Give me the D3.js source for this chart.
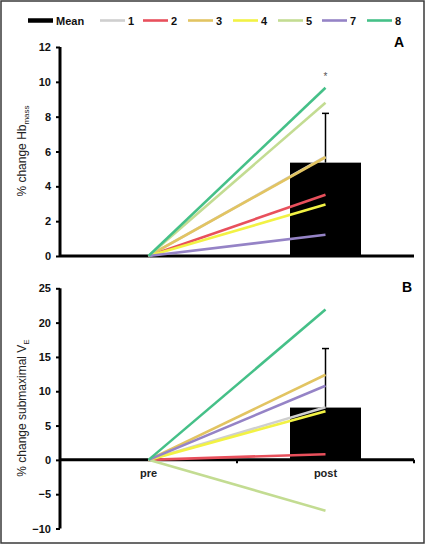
<!DOCTYPE html>
<html><head><meta charset="utf-8">
<script src="https://cdn.jsdelivr.net/npm/d3@7/dist/d3.min.js"></script>
<style>body{margin:0;background:#fff}svg{display:block;font-family:Arial,"Liberation Sans",sans-serif}</style>
</head><body>
<svg id="c" width="425" height="544"></svg>
<script>
const categories = ["pre", "post"];
const subjects = ["1", "2", "3", "4", "5", "7", "8"];
const subjectColors = ["#cfcfcf", "#e8505c", "#e2c462", "#f2f244", "#c3dc92", "#9583c6", "#45c088"];
// Panel A: % change Hb mass (post values; pre = 0)
const hbPost = [5.7, 3.52, 5.67, 2.95, 8.8, 1.22, 9.66];
const hbMean = 5.36, hbSD = 2.83;
const hbTicks = [0, 2, 4, 6, 8, 10, 12];
// Panel B: % change submaximal VE
const vePost = [7.67, 0.83, 12.4, 7.08, -7.4, 10.8, 21.9];
const veMean = 7.62, veSD = 8.6;
const veTicks = [-10, -5, 0, 5, 10, 15, 20, 25];

const svg = d3.select("#c");
svg.append("rect").attr("x",1).attr("y",1).attr("width",423).attr("height",542)
  .attr("fill","#fff").attr("stroke","#3a3a3a").attr("stroke-width",1.5);

const x = d3.scaleBand().domain(categories).range([60, 414]);
const cx = c => x(c) + x.bandwidth()/2;
const barW = 71;

function panel(yDomain, yRange, ticks, post, mean, sd, label, labelPos, star, showXLabels, titleParts, titleY) {
  const y = d3.scaleLinear().domain(yDomain).range(yRange);
  const g = svg.append("g");
  // bar
  g.append("rect").attr("x", cx("post") - barW/2).attr("y", y(mean))
    .attr("width", barW).attr("height", y(0) - y(mean)).attr("fill", "#000");
  // error bar (upper)
  g.append("line").attr("x1", cx("post")).attr("x2", cx("post"))
    .attr("y1", y(mean)).attr("y2", y(mean + sd)).attr("stroke", "#000").attr("stroke-width", 1.5);
  g.append("line").attr("x1", cx("post") - 3.5).attr("x2", cx("post") + 3.5)
    .attr("y1", y(mean + sd)).attr("y2", y(mean + sd)).attr("stroke", "#000").attr("stroke-width", 1.5);
  // y axis
  const ya = d3.axisLeft(y).tickValues(ticks).tickSize(4).tickPadding(5);
  const yg = g.append("g").attr("transform", "translate(60,0)").call(ya);
  yg.select(".domain").attr("stroke-width", 3).attr("d", `M0,${y(yDomain[1])}V${y(yDomain[0])}`);
  yg.selectAll(".tick line").attr("stroke-width", 2);
  yg.selectAll("text").attr("font-size", 11).attr("font-weight", "bold").attr("fill", "#111");
  // x axis line at 0
  const xa = d3.axisBottom(x).tickSize(0).tickFormat(showXLabels ? (d => d) : "");
  const xg = g.append("g").attr("transform", `translate(0,${y(0)})`).call(xa);
  xg.select(".domain").attr("stroke-width", 3).attr("d", `M60,0H414`);
  xg.selectAll(".tick line").remove();
  xg.selectAll("text").attr("font-size", 11).attr("font-weight", "bold").attr("fill", "#222").attr("dy", "1.3em");
  if (showXLabels) {
    [x.range()[0] + x.bandwidth(), 414].forEach(v => {
      g.append("line").attr("x1", v).attr("x2", v).attr("y1", y(0)).attr("y2", y(0) + 3.5)
        .attr("stroke", "#000").attr("stroke-width", 2);
    });
  }
  // subject lines
  subjects.forEach((s, i) => {
    g.append("line").attr("x1", cx("pre")).attr("y1", y(0))
      .attr("x2", cx("post")).attr("y2", y(post[i]))
      .attr("stroke", subjectColors[i]).attr("stroke-width", 2.6).attr("stroke-linecap", "butt");
  });
  // star
  if (star) {
    g.append("text").attr("x", cx("post")).attr("y", y(mean + sd) - 33).attr("text-anchor", "middle")
      .attr("font-size", 10).attr("fill", "#555").text("*");
  }
  // panel label
  g.append("text").attr("x", labelPos[0]).attr("y", labelPos[1]).attr("text-anchor", "middle")
    .attr("font-size", 14).attr("font-weight", "bold").text(label);
  // y title
  const t = g.append("text").attr("transform", `translate(26,${titleY}) rotate(-90)`)
    .attr("text-anchor", "middle").attr("font-size", 12).attr("fill", "#222");
  t.append("tspan").text(titleParts[0]);
  t.append("tspan").attr("font-size", 8).attr("dy", 3).text(titleParts[1]);
}

panel([0, 12], [256, 47], hbTicks, hbPost, hbMean, hbSD, "A", [399, 47], true, false,
      ["% change Hb", "mass"], 151);
panel([-10, 25], [528.5, 288.3], veTicks, vePost, veMean, veSD, "B", [407, 292], false, true,
      ["% change submaximal V", "E"], 408);

// legend
const legendItems = [{name: "Mean", color: "#000", w: 4.5}].concat(
  subjects.map((s, i) => ({name: s, color: subjectColors[i], w: 2.6})));
const legendX = [28, 100, 143, 188, 233, 278, 322, 367];
const lg = svg.append("g");
legendItems.forEach((d, i) => {
  lg.append("line").attr("x1", legendX[i]).attr("x2", legendX[i] + 25).attr("y1", 20.5).attr("y2", 20.5)
    .attr("stroke", d.color).attr("stroke-width", d.w);
  lg.append("text").attr("x", legendX[i] + 28).attr("y", 24.5).attr("font-size", 11)
    .attr("font-weight", "bold").attr("fill", "#111").text(d.name);
});
</script>
</body></html>
